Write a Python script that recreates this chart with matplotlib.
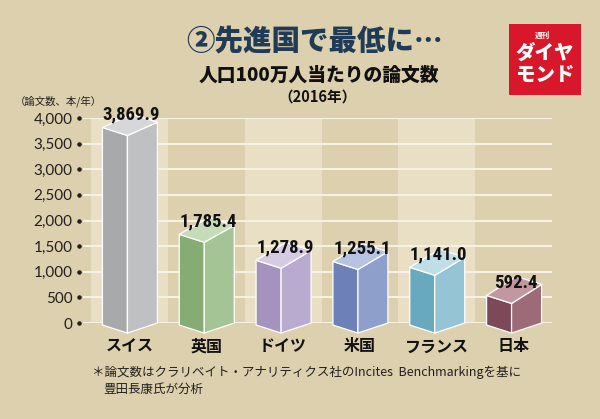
import numpy as np
import matplotlib
matplotlib.use('Agg')
import matplotlib.pyplot as plt
from matplotlib.patches import Polygon, Rectangle

# データ
countries = ['スイス', '英国', 'ドイツ', '米国', 'フランス', '日本']
values = [3869.9, 1785.4, 1278.9, 1255.1, 1141.0, 592.4]
value_labels = ['3,869.9', '1,785.4', '1,278.9', '1,255.1', '1,141.0', '592.4']
yticks = [0, 500, 1000, 1500, 2000, 2500, 3000, 3500, 4000]
ytick_labels = ['0', '500', '1,000', '1,500', '2,000', '2,500', '3,000', '3,500', '4,000']

# 色 (正面, 側面, 上面)
front_cols = ['#a8a9ab', '#85ac73', '#a393bd', '#6d80b7', '#69a9bf', '#7d4959']
side_cols = ['#bfc0c2', '#a4c495', '#b9aad0', '#8e9fcc', '#95c4d4', '#9d6a78']
top_cols = ['#d6d7d8', '#c6dcb8', '#d5cbe5', '#b8c2e1', '#bfdfe8', '#c2979f']

BG = '#ddd0ae'
BAND = '#e8dfc4'
JP = ['Noto Sans CJK JP', 'DejaVu Sans']

W, H = 600, 419
fig = plt.figure(figsize=(W / 100, H / 100), dpi=100, facecolor=BG)

def fx(x):
    return x / W

def fy(y):
    return 1 - y / H

# 軸: 0 -> y=323px, 4000 -> y=118px
ax = fig.add_axes([fx(83), fy(323), 469 / W, 205 / H])
ax.set_facecolor(BG)
xpx = 469 / (6 + 8 / 76.83)          # px per x unit
ux = 1 / xpx
uy = 4000 / 205                      # data units per px
ax.set_xlim(-0.5 - 8 * ux, 5.5)
ax.set_ylim(0, 4000)
for s in ax.spines.values():
    s.set_visible(False)

# 背景の帯
for i in range(0, 6, 2):
    ax.axvspan(i - 0.5, i + 0.5, color=BAND, zorder=0, lw=0)

# 目盛り線
ax.hlines(yticks, -0.5 - 8 * ux, 5.5, colors='#f7f2e4', lw=1.4, zorder=1)

# 3Dっぽい棒
drop = 8 * uy
for i, v in enumerate(values):
    L = i - 27 * ux
    C = L + 25 * ux
    R = C + 30 * ux
    b = -40
    t = v - 55
    rise_b = 10 * uy
    rise_t = (20 - 7 * v / 4000) * uy
    front = [(L, b), (C, b - drop), (C, t - drop), (L, t)]
    side = [(C, b - drop), (R, b - drop + rise_b), (R, t - drop + rise_t), (C, t - drop)]
    top = [(L, t), (C, t - drop), (R, t - drop + rise_t), (L + (R - C), t + rise_t)]
    for pts, col in ((front, front_cols[i]), (side, side_cols[i]), (top, top_cols[i])):
        ax.add_patch(Polygon(pts, closed=True, facecolor=col, edgecolor='white',
                             lw=0.9, zorder=3, clip_on=False, joinstyle='round'))
    ax.annotate(value_labels[i], (i + 2 * ux, v), xytext=(0, 3.5), textcoords='offset points',
                ha='center', va='baseline', fontsize=13.5, fontweight='bold',
                family=['Roboto Condensed', 'Roboto', 'DejaVu Sans'], color='#111111',
                zorder=5, annotation_clip=False)

# 軸ラベル
ax.set_yticks(yticks, ytick_labels)
ax.tick_params(axis='y', length=0, pad=7.5, labelsize=11, labelcolor='#231f20')
for lab in ax.get_yticklabels():
    lab.set_family(['Lato', 'DejaVu Sans'])
ax.scatter(np.full(len(yticks), -4 / 469), yticks, transform=ax.get_yaxis_transform(),
           s=5, color='#231f20', clip_on=False, zorder=5)

ax.set_xticks(range(len(countries)), countries)
ax.tick_params(axis='x', length=0, pad=11)
for lab in ax.get_xticklabels():
    lab.set_family(JP)
    lab.set_fontweight('bold')
    lab.set_fontsize(11.5)
    lab.set_color('#111111')

# タイトル
fig.text(fx(315), fy(42), '②先進国で最低に…', ha='center', va='center',
         fontsize=20.5, fontweight='heavy', color='#1f3b55', family=JP)
fig.text(fx(319), fy(75), '人口100万人当たりの論文数', ha='center', va='center',
         fontsize=13.5, fontweight='heavy', color='#111111', family=JP)
fig.text(fx(318), fy(97), '（2016年）', ha='center', va='center',
         fontsize=10.5, fontweight='bold', color='#111111', family=JP)
fig.text(fx(15), fy(101), '（論文数、本/年）', ha='left', va='center',
         fontsize=7.5, color='#231f20', family=JP)

# ロゴ
fig.add_artist(Rectangle((fx(509), fy(95)), 72 / W, 71 / H, transform=fig.transFigure,
                         facecolor='#d9172b', edgecolor='none'))
fig.text(fx(542), fy(35), '週刊', ha='center', va='center', fontsize=5.5,
         fontweight='bold', color='white', family=JP)
fig.text(fx(545), fy(54), 'ダイヤ', ha='center', va='center', fontsize=14,
         fontweight='heavy', color='white', family=JP)
fig.text(fx(545), fy(75), 'モンド', ha='center', va='center', fontsize=14,
         fontweight='heavy', color='white', family=JP)

# 注記
fig.text(fx(92), fy(372), '＊論文数はクラリベイト・アナリティクス社のIncites  Benchmarkingを基に',
         ha='left', va='center', fontsize=9, color='#231f20', family=JP)
fig.text(fx(103), fy(389), '豊田長康氏が分析', ha='left', va='center',
         fontsize=9, color='#231f20', family=JP)

fig.savefig('out.png', dpi=100, facecolor=BG)
